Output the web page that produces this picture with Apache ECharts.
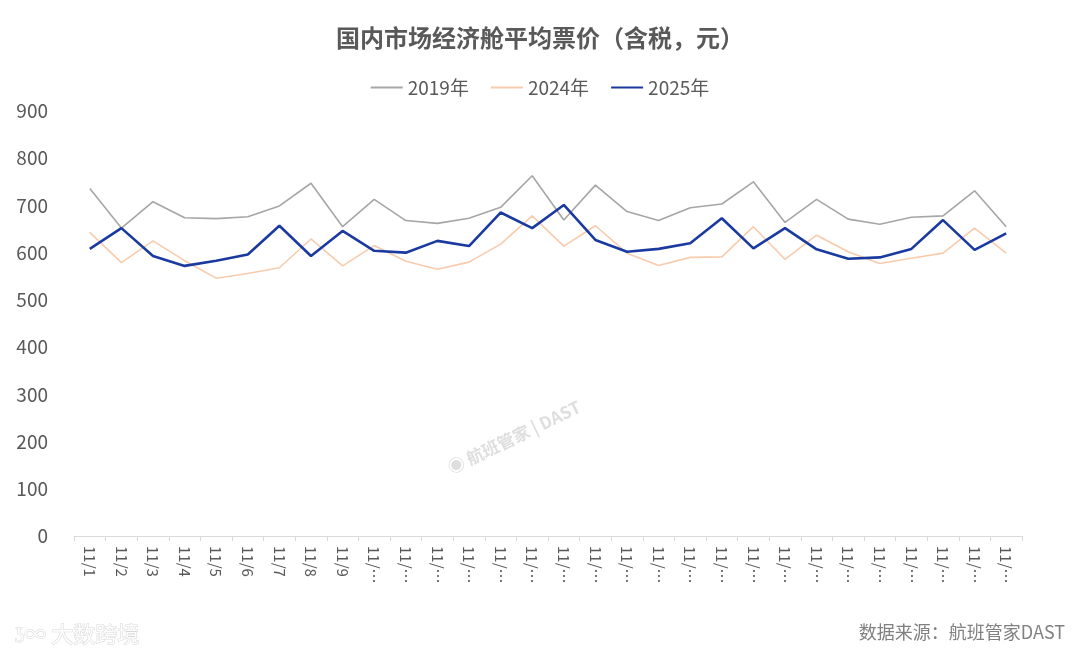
<!DOCTYPE html>
<html>
<head>
<meta charset="utf-8">
<title>国内市场经济舱平均票价</title>
<script src="https://cdn.jsdelivr.net/npm/echarts@6/dist/echarts.min.js"></script>
<style>
  html, body { margin: 0; padding: 0; background: #fff; }
  #chart { width: 1080px; height: 657px; }
</style>
</head>
<body>
<div id="chart"></div>
<script>
const days = []
for (let d = 1; d <= 30; d++) days.push('11/' + d)

const y2019 = [736, 652, 708, 674, 672, 676, 699, 747, 655, 713,
  668, 662, 673, 696, 763, 669, 743, 687, 668, 695,
  703, 750, 664, 713, 671, 660, 675, 678, 731, 655]
const y2024 = [643, 579, 625, 583, 546, 556, 568, 629, 572, 615,
  582, 565, 580, 618, 678, 614, 657, 599, 573, 590,
  591, 655, 586, 637, 602, 577, 588, 599, 652, 599]
const y2025 = [608, 652, 593, 572, 583, 596, 657, 593, 646, 604,
  600, 625, 614, 685, 652, 701, 627, 602, 608, 620,
  673, 609, 652, 607, 587, 590, 608, 669, 606, 641]

const font = 'Noto Sans CJK SC'
const textColor = '#595959'

const chart = echarts.init(document.getElementById('chart'))

function lineSeries(name, data, color, width, z) {
  return {
    name,
    type: 'line',
    data,
    symbol: 'none',
    z,
    lineStyle: { color, width },
    itemStyle: { color },
    animation: false,
  }
}

chart.setOption({
  backgroundColor: '#fff',
  textStyle: { fontFamily: font },
  title: {
    text: '国内市场经济舱平均票价（含税，元）',
    left: 'center',
    top: 21,
    textStyle: { color: textColor, fontSize: 24, fontWeight: 'bold', fontFamily: font },
  },
  legend: {
    top: 73,
    left: 'center',
    itemGap: 22,
    itemWidth: 32,
    itemHeight: 2,
    icon: 'rect',
    textStyle: { color: textColor, fontSize: 19, fontFamily: font },
    data: ['2019年', '2024年', '2025年'],
  },
  grid: { left: 74, right: 58, top: 111, bottom: 121, containLabel: false },
  xAxis: {
    type: 'category',
    data: days,
    boundaryGap: true,
    axisLine: { lineStyle: { color: '#d9d9d9', width: 1 } },
    axisTick: { show: true, length: 5, lineStyle: { color: '#d9d9d9' } },
    axisLabel: {
      interval: 0,
      rotate: -90,
      margin: 10,
      color: textColor,
      fontSize: 15,
      fontFamily: font,
      formatter: (v) => (v.length > 4 ? v.slice(0, 3) + '…' : v),
    },
  },
  yAxis: {
    type: 'value',
    min: 0,
    max: 900,
    interval: 100,
    axisLine: { show: false },
    axisTick: { show: false },
    splitLine: { show: false },
    axisLabel: { color: textColor, fontSize: 19, margin: 26, fontFamily: font },
  },
  series: [
    lineSeries('2019年', y2019, '#a6a6a6', 1.6, 2),
    lineSeries('2024年', y2024, '#f8cbad', 1.6, 3),
    lineSeries('2025年', y2025, '#1a3aa0', 2.6, 4),
  ],
  graphic: [
    {
      type: 'text',
      left: 445,
      top: 398,
      rotation: Math.PI / 7,
      style: {
        text: '◉ 航班管家 | DAST',
        fill: 'rgba(160,160,160,0.35)',
        fontSize: 17,
        fontWeight: 'bold',
        fontFamily: font,
      },
    },
    {
      type: 'text',
      left: 14,
      top: 622,
      style: {
        text: 'ʖ∞ 大数跨境',
        fill: 'rgba(255,255,255,0.9)',
        stroke: 'rgba(200,200,200,0.7)',
        lineWidth: 1,
        fontSize: 22,
        fontFamily: font,
      },
    },
    {
      type: 'text',
      right: 15,
      top: 623,
      style: {
        text: '数据来源：航班管家DAST',
        fill: '#808080',
        fontSize: 18,
        fontFamily: font,
      },
    },
  ],
})
</script>
</body>
</html>
